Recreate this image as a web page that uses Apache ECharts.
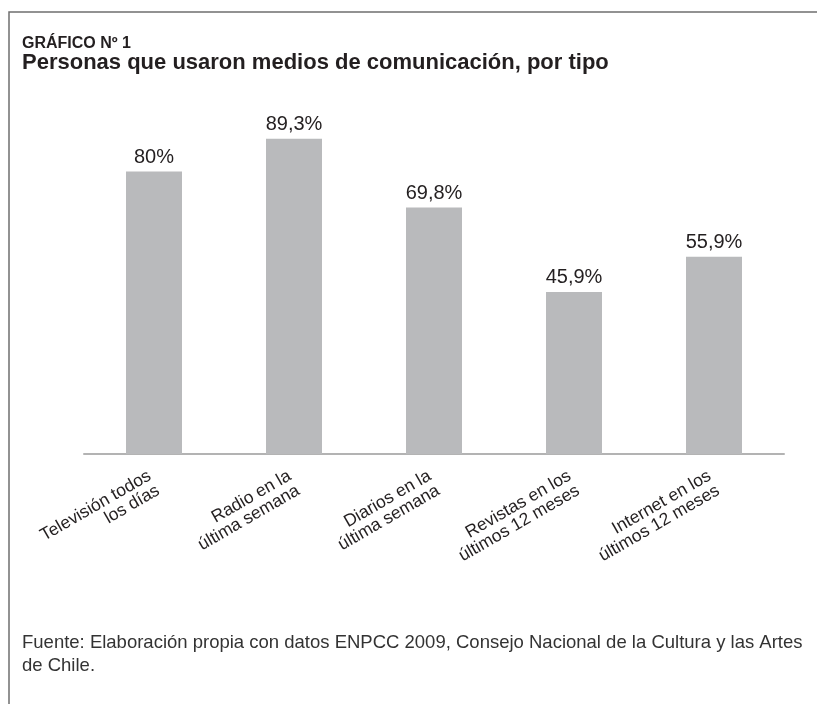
<!DOCTYPE html>
<html>
<head>
<meta charset="utf-8">
<script src="https://cdn.jsdelivr.net/npm/echarts@6/dist/echarts.min.js"></script>
<style>
  html, body { margin: 0; padding: 0; background: #ffffff; }
  #chart { width: 817px; height: 704px; }
</style>
</head>
<body>
<div id="chart"></div>
<script>
// Media usage by type (percent of people)
const categories = [
  'Televisión todos\nlos días',
  'Radio en la\núltima semana',
  'Diarios en la\núltima semana',
  'Revistas en los\núltimos 12 meses',
  'Internet en los\núltimos 12 meses'
];
const values = [80, 89.3, 69.8, 45.9, 55.9];
const valueLabels = ['80%', '89,3%', '69,8%', '45,9%', '55,9%'];

const chart = echarts.init(document.getElementById('chart'), null, { renderer: 'canvas' });

chart.setOption({
  backgroundColor: '#ffffff',
  animation: false,
  title: [
    {
      text: 'GRÁFICO Nº 1',
      left: 17, top: 31,
      textStyle: { fontFamily: '"Liberation Sans", sans-serif', fontWeight: 'bold', fontSize: 16, color: '#231f20' }
    },
    {
      text: 'Personas que usaron medios de comunicación, por tipo',
      left: 17, top: 47,
      textStyle: { fontFamily: '"Liberation Sans", sans-serif', fontWeight: 'bold', fontSize: 22, color: '#231f20' }
    },
    {
      text: 'Fuente: Elaboración propia con datos ENPCC 2009, Consejo Nacional de la Cultura y las Artes\nde Chile.',
      left: 17, top: 626,
      textStyle: { fontFamily: '"Liberation Sans", sans-serif', fontWeight: 'normal', fontSize: 18.5, lineHeight: 23, color: '#333333' }
    }
  ],
  graphic: [
    {
      type: 'polyline',
      shape: { points: [[9, 704], [9, 12], [817, 12]] },
      style: { stroke: '#6f6f6f', lineWidth: 1.5, fill: null }
    }
  ],
  grid: { left: 84, right: 33, top: 101, bottom: 250 },
  xAxis: {
    type: 'category',
    data: categories,
    axisLine: { lineStyle: { color: '#b3b3b3', width: 2 } },
    axisTick: { show: false },
    axisLabel: {
      rotate: 30,
      interval: 0,
      margin: 28,
      fontFamily: '"Liberation Sans", sans-serif',
      fontSize: 17.5,
      lineHeight: 17,
      color: '#231f20'
    }
  },
  yAxis: {
    type: 'value',
    min: 0, max: 100,
    show: false,
    splitLine: { show: false }
  },
  series: [
    {
      type: 'bar',
      data: values,
      barWidth: 56,
      itemStyle: { color: '#b9babc' },
      label: {
        show: true,
        position: 'top',
        distance: 4,
        fontFamily: '"Liberation Sans", sans-serif',
        fontSize: 20,
        color: '#231f20',
        formatter: p => valueLabels[p.dataIndex]
      }
    }
  ]
});
</script>
</body>
</html>
